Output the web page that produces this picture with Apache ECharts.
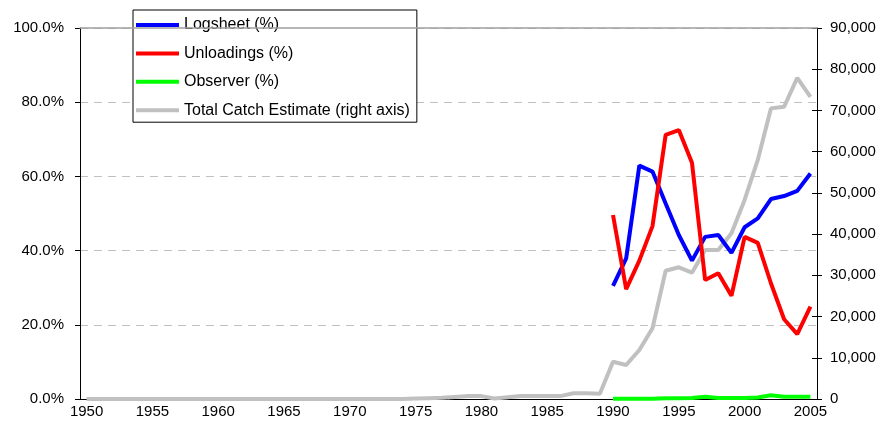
<!DOCTYPE html>
<html>
<head>
<meta charset="utf-8">
<script src="https://cdn.jsdelivr.net/npm/echarts@6/dist/echarts.min.js"></script>
<style>
  html, body { margin: 0; padding: 0; background: #fff; }
  #chart { width: 881px; height: 432px; }
</style>
</head>
<body>
<div id="chart"></div>
<script>
// years 1950..2005
const years = [];
for (let y = 1950; y <= 2005; y++) years.push(String(y));

// coverage series (%) start in 1990
const coverageYears = ['1990','1991','1992','1993','1994','1995','1996','1997','1998','1999','2000','2001','2002','2003','2004','2005'];
const logsheet   = [30.5, 37.9, 62.9, 61.3, 52.7, 44.2, 37.3, 43.7, 44.2, 39.4, 46.3, 48.7, 53.9, 54.7, 56.1, 60.8];
const unloadings = [49.6, 29.6, 37.3, 46.6, 71.2, 72.5, 63.7, 32.1, 33.9, 27.8, 43.7, 42.1, 31.2, 21.5, 17.5, 24.9];
const observer   = [0.1, 0.1, 0.1, 0.1, 0.2, 0.2, 0.3, 0.6, 0.3, 0.3, 0.3, 0.4, 1.0, 0.6, 0.6, 0.6];

// total catch estimate (right axis), 1950..2005
const totalCatch = [
  0, 0, 0, 0, 0, 0, 0, 0, 0, 0,
  0, 0, 0, 0, 0, 0, 0, 0, 0, 0,
  0, 0, 0, 0, 0, 100, 200, 300, 500, 700,
  700, 100, 400, 700, 700, 700, 700, 1400, 1400, 1300,
  9050, 8250, 11900, 17150, 31100, 31950, 30650, 36150, 36150, 40200,
  48300, 58000, 70500, 70900, 77900, 73300
];

function alignToYears(keys, vals) {
  return years.map(y => {
    const i = keys.indexOf(y);
    return i < 0 ? null : vals[i];
  });
}

const font = 'Liberation Sans, Arial, sans-serif';
const chart = echarts.init(document.getElementById('chart'));

const option = {
  animation: false,
  backgroundColor: '#fff',
  textStyle: { fontFamily: font },
  grid: { left: 80, right: 64, top: 28, bottom: 33 },
  legend: {
    orient: 'vertical',
    left: 133,
    top: 10,
    padding: [4, 7, 1, 3],
    icon: 'rect',
    itemWidth: 43,
    itemHeight: 4,
    itemGap: 6.4,
    backgroundColor: '#fff',
    borderColor: '#000',
    borderWidth: 1,
    borderRadius: 0,
    textStyle: { fontFamily: font, fontSize: 16, color: '#000', lineHeight: 18, padding: [4, 0, 0, 0] },
    data: ['Logsheet (%)', 'Unloadings (%)', 'Observer (%)', 'Total Catch Estimate (right axis)']
  },
  xAxis: [{
    type: 'category',
    data: years,
    boundaryGap: true,
    axisLine: { lineStyle: { color: '#000', width: 1 } },
    axisTick: { interval: 0, length: 5, lineStyle: { color: '#000' } },
    axisLabel: { interval: 4, color: '#000', fontFamily: font, fontSize: 15, margin: 5 }
  }, {
    type: 'category',
    data: years,
    position: 'top',
    boundaryGap: true,
    z: 5,
    axisLine: { onZero: false, lineStyle: { color: '#a0a0a0', width: 1.5 } },
    axisTick: { show: false },
    axisLabel: { show: false }
  }],
  yAxis: [{
    type: 'value',
    min: 0, max: 100, interval: 20,
    axisLine: { show: true, lineStyle: { color: '#000' } },
    axisTick: { show: true, length: 5, lineStyle: { color: '#000' } },
    axisLabel: { color: '#000', fontFamily: font, fontSize: 15, margin: 16,
                 formatter: v => v.toFixed(1) + '%' },
    splitLine: { show: true, lineStyle: { color: '#c0c0c0', type: [8, 6], width: 1 } }
  }, {
    type: 'value',
    position: 'right',
    min: 0, max: 90000, interval: 10000,
    axisLine: { show: true, lineStyle: { color: '#000' } },
    axisTick: { show: true, length: 5, lineStyle: { color: '#000' } },
    axisLabel: { color: '#000', fontFamily: font, fontSize: 15, margin: 13,
                 formatter: v => v.toLocaleString('en-US') },
    splitLine: { show: false }
  }, {
    type: 'value',
    position: 'right',
    min: 0, max: 90000, interval: 10000,
    axisLine: { show: false },
    axisTick: { show: true, inside: true, length: 5, lineStyle: { color: '#000' } },
    axisLabel: { show: false },
    splitLine: { show: false }
  }],
  series: [{
    name: 'Total Catch Estimate (right axis)',
    type: 'line',
    yAxisIndex: 1,
    data: totalCatch,
    symbol: 'none',
    lineStyle: { color: '#c0c0c0', width: 4 },
    itemStyle: { color: '#c0c0c0' },
    z: 2
  }, {
    name: 'Logsheet (%)',
    type: 'line',
    data: alignToYears(coverageYears, logsheet),
    symbol: 'none',
    lineStyle: { color: '#0000ff', width: 4 },
    itemStyle: { color: '#0000ff' },
    z: 3
  }, {
    name: 'Unloadings (%)',
    type: 'line',
    data: alignToYears(coverageYears, unloadings),
    symbol: 'none',
    lineStyle: { color: '#ff0000', width: 4 },
    itemStyle: { color: '#ff0000' },
    z: 4
  }, {
    name: 'Observer (%)',
    type: 'line',
    data: alignToYears(coverageYears, observer),
    symbol: 'none',
    lineStyle: { color: '#00ff00', width: 4 },
    itemStyle: { color: '#00ff00' },
    z: 5
  }]
};

chart.setOption(option);
</script>
</body>
</html>
